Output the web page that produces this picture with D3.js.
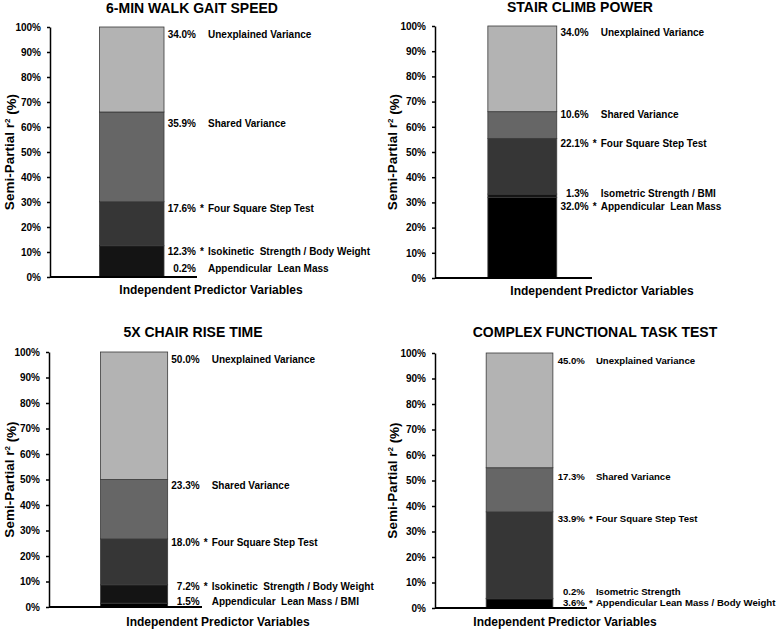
<!DOCTYPE html>
<meta charset="utf-8">
<style>
  body { margin: 0; background: #fff; }
  svg text { font-family: "Liberation Sans", Arial, sans-serif; font-weight: bold; fill: #000; }
  .axis path, .axis line { stroke: #000; stroke-width: 1.5; }
  .axis text { font-size: 10px; }
</style>
<body>
<div id="chart"></div>
<script src="https://d3js.org/d3.v7.min.js"></script>
<script>
// ---- data (stack order: bottom to top) ----
const titles = ["6-MIN WALK GAIT SPEED", "STAIR CLIMB POWER", "5X CHAIR RISE TIME", "COMPLEX FUNCTIONAL TASK TEST"];

const walkNames  = ["Appendicular  Lean Mass", "Isokinetic  Strength / Body Weight", "Four Square Step Test", "Shared Variance", "Unexplained Variance"];
const walkValues = [0.2, 12.3, 17.6, 35.9, 34.0];
const walkStars  = [false, true, true, false, false];

const stairNames  = ["Appendicular  Lean Mass", "Isometric Strength / BMI", "Four Square Step Test", "Shared Variance", "Unexplained Variance"];
const stairValues = [32.0, 1.3, 22.1, 10.6, 34.0];
const stairStars  = [true, false, true, false, false];

const chairNames  = ["Appendicular  Lean Mass / BMI", "Isokinetic  Strength / Body Weight", "Four Square Step Test", "Shared Variance", "Unexplained Variance"];
const chairValues = [1.5, 7.2, 18.0, 23.3, 50.0];
const chairStars  = [false, true, true, false, false];

const taskNames  = ["Appendicular Lean Mass / Body Weight", "Isometric Strength", "Four Square Step Test", "Shared Variance", "Unexplained Variance"];
const taskValues = [3.6, 0.2, 33.9, 17.3, 45.0];
const taskStars  = [true, false, true, false, false];

const yTicks = [0, 10, 20, 30, 40, 50, 60, 70, 80, 90, 100];
const xCategory = "Independent Predictor Variables";
const yTitle = "Semi-Partial r";

// where each label sits, in axis units (%)
const walkLabelAt  = [3.4, 10.3, 27.6, 61.6, 97.2];
const stairLabelAt = [28.2, 33.6, 53.2, 65.0, 97.6];
const chairLabelAt = [2.0, 8.2, 25.1, 47.5, 96.9];
const taskLabelAt  = [2.0, 6.4, 34.9, 51.4, 96.9];

const shades = ["#000000", "#141414", "#363636", "#666666", "#b3b3b3"];

const panels = [
  { title: titles[0], names: walkNames, values: walkValues, stars: walkStars, labelAt: walkLabelAt, labSize: 10, nameGap: 12,
    x0: 50, x1: 197, y0: 277, y1: 27, titleX: 192, titleY: 13, catX: 211, catY: 294, ylabX: 14 },
  { title: titles[1], names: stairNames, values: stairValues, stars: stairStars, labelAt: stairLabelAt, labSize: 10, nameGap: 12,
    x0: 435, x1: 592, y0: 278, y1: 26, titleX: 580, titleY: 12, catX: 602, catY: 295, ylabX: 397 },
  { title: titles[2], names: chairNames, values: chairValues, stars: chairStars, labelAt: chairLabelAt, labSize: 10, nameGap: 12,
    x0: 49, x1: 202, y0: 607, y1: 352, titleX: 193, titleY: 337, catX: 218, catY: 626, ylabX: 14 },
  { title: titles[3], names: taskNames, values: taskValues, stars: taskStars, labelAt: taskLabelAt, labSize: 9.6, nameGap: 11,
    x0: 435, x1: 587, y0: 608, y1: 353, titleX: 595, titleY: 337, catX: 565, catY: 626, ylabX: 397 }
];

const svg = d3.select("#chart").append("svg")
  .attr("width", 778)
  .attr("height", 629);

panels.forEach(p => {
  const g = svg.append("g");

  const y = d3.scaleLinear().domain([0, 100]).range([p.y0, p.y1]);
  const x = d3.scaleBand().domain([xCategory]).range([p.x0, p.x1]).padding(0.39).align(0.6);

  // stack the segments
  let acc = 0;
  const segs = p.values.map((v, i) => {
    const s = { lo: acc, hi: acc + v, value: v, name: p.names[i], star: p.stars[i], at: p.labelAt[i], fill: shades[i] };
    acc += v;
    return s;
  });

  g.selectAll(".seg")
    .data(segs)
    .join("rect")
    .attr("class", "seg")
    .attr("x", x(xCategory))
    .attr("width", x.bandwidth())
    .attr("y", d => y(d.hi))
    .attr("height", d => y(d.lo) - y(d.hi))
    .attr("fill", d => d.fill)
    .attr("stroke", "#3a3a3a")
    .attr("stroke-width", 0.8);

  // y axis
  g.append("g")
    .attr("class", "axis")
    .attr("transform", `translate(${p.x0},0)`)
    .call(d3.axisLeft(y).tickValues(yTicks).tickSize(3).tickPadding(6).tickSizeOuter(0).tickFormat(d => d + "%"));

  // baseline
  g.append("line")
    .attr("x1", p.x0).attr("x2", p.x1)
    .attr("y1", y(0)).attr("y2", y(0))
    .attr("stroke", "#000").attr("stroke-width", 1.8);

  // segment labels
  const pctX = x(xCategory) + x.bandwidth() + 32;
  const lab = g.selectAll(".lab").data(segs).join("g").attr("class", "lab")
    .attr("transform", d => `translate(0,${y(d.at)})`);
  lab.append("text")
    .attr("x", pctX).attr("dy", "0.35em")
    .attr("text-anchor", "end")
    .style("font-size", p.labSize + "px")
    .text(d => d.value.toFixed(1) + "%");
  lab.filter(d => d.star).append("text")
    .attr("x", pctX + 4).attr("dy", "0.35em")
    .style("font-size", p.labSize + "px")
    .text("*");
  lab.append("text")
    .attr("x", pctX + p.nameGap).attr("dy", "0.35em")
    .style("font-size", p.labSize + "px")
    .attr("xml:space", "preserve")
    .text(d => d.name);

  // titles
  g.append("text")
    .attr("x", p.titleX).attr("y", p.titleY)
    .attr("text-anchor", "middle")
    .style("font-size", "14px")
    .text(p.title);

  g.append("text")
    .attr("x", p.catX).attr("y", p.catY)
    .attr("text-anchor", "middle")
    .style("font-size", "12px")
    .text(xCategory);

  const yl = g.append("text")
    .attr("transform", `translate(${p.ylabX},${(p.y0 + p.y1) / 2}) rotate(-90)`)
    .attr("text-anchor", "middle")
    .style("font-size", "13.5px");
  yl.append("tspan").text(yTitle);
  yl.append("tspan").attr("dy", "-0.45em").style("font-size", "8px").text("2");
  yl.append("tspan").attr("dy", "0.45em").text(" (%)");
});
</script>
</body>
